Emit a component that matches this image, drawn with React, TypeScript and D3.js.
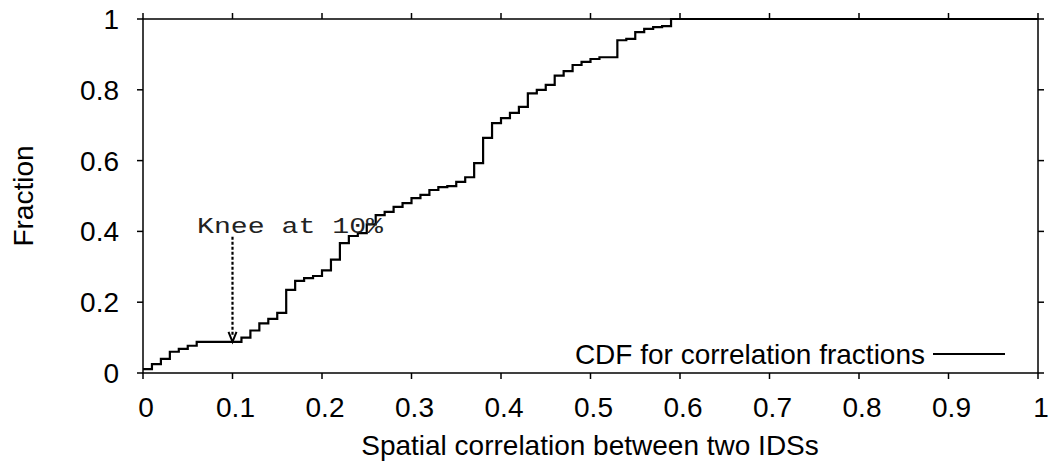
import React from "react";
import * as d3 from "d3";

const xValues = [0.0, 0.01, 0.02, 0.03, 0.04, 0.05, 0.06, 0.07, 0.08, 0.09, 0.1, 0.11, 0.12, 0.13, 0.14, 0.15, 0.16, 0.17, 0.18, 0.19, 0.2, 0.21, 0.22, 0.23, 0.24, 0.25, 0.26, 0.27, 0.28, 0.29, 0.3, 0.31, 0.32, 0.33, 0.34, 0.35, 0.36, 0.37, 0.38, 0.39, 0.4, 0.41, 0.42, 0.43, 0.44, 0.45, 0.46, 0.47, 0.48, 0.49, 0.5, 0.51, 0.52, 0.53, 0.54, 0.55, 0.56, 0.57, 0.58, 0.59, 1.0];
const cdfValues = [0.011, 0.025, 0.04, 0.06, 0.068, 0.077, 0.088, 0.088, 0.088, 0.088, 0.088, 0.1, 0.12, 0.14, 0.153, 0.17, 0.235, 0.26, 0.268, 0.274, 0.29, 0.32, 0.367, 0.387, 0.395, 0.42, 0.446, 0.455, 0.469, 0.48, 0.494, 0.503, 0.517, 0.525, 0.528, 0.54, 0.553, 0.593, 0.664, 0.706, 0.72, 0.735, 0.752, 0.79, 0.8, 0.814, 0.84, 0.853, 0.87, 0.879, 0.887, 0.892, 0.892, 0.94, 0.944, 0.963, 0.972, 0.977, 0.98, 1.0, 1.0];
const xTicks = [0, 0.1, 0.2, 0.3, 0.4, 0.5, 0.6, 0.7, 0.8, 0.9, 1];
const yTicks = [0, 0.2, 0.4, 0.6, 0.8, 1];
const kneeX = 0.1;
const kneeFrom = 0.385;
const kneeTo = 0.088;
const kneeLabel = "Knee at 10%";
const legendLabel = "CDF for correlation fractions";
const xTitle = "Spatial correlation between two IDSs";
const yTitle = "Fraction";

const fmt = (v: number) => String(v);

export default function App() {
  const W = 1049, H = 467;
  const left = 143, right = 1038, top = 19, bottom = 373;
  const x = d3.scaleLinear().domain([0, 1]).range([left, right]);
  const y = d3.scaleLinear().domain([0, 1]).range([bottom, top]);
  const pts: [number, number][] = xValues.map((v, i) => [v, cdfValues[i]]);
  const line = d3
    .line<[number, number]>()
    .x((d) => x(d[0]))
    .y((d) => y(d[1]))
    .curve(d3.curveStepAfter);
  const font = "'Liberation Sans', Arial, Helvetica, sans-serif";
  const tl = 6;
  return (
    <svg width={W} height={H} style={{ position: "absolute", left: 0, top: 0 }}>
      <rect x={0} y={0} width={W} height={H} fill="#fff" />
      <rect x={left} y={top} width={right - left} height={bottom - top} fill="none" stroke="#000" strokeWidth={1.5} />
      {xTicks.map((t) => (
        <g key={"x" + t}>
          <line x1={x(t)} x2={x(t)} y1={bottom} y2={bottom + tl} stroke="#000" strokeWidth={1.5} />
          <line x1={x(t)} x2={x(t)} y1={top} y2={top - tl} stroke="#000" strokeWidth={1.5} />
          <text x={x(t) + 3} y={417} fontSize={28} fontFamily={font} textAnchor="middle" fill="#000">
            {fmt(t)}
          </text>
        </g>
      ))}
      {yTicks.map((t) => (
        <g key={"y" + t}>
          <line x1={left - tl} x2={left} y1={y(t)} y2={y(t)} stroke="#000" strokeWidth={1.5} />
          <line x1={right} x2={right + tl} y1={y(t)} y2={y(t)} stroke="#000" strokeWidth={1.5} />
          <text x={119} y={y(t) + 10} fontSize={28} fontFamily={font} textAnchor="end" fill="#000">
            {fmt(t)}
          </text>
        </g>
      ))}
      <text x={590} y={455} fontSize={28} fontFamily={font} textAnchor="middle" fill="#000">
        {xTitle}
      </text>
      <text transform={`translate(33,196) rotate(-90)`} fontSize={28} fontFamily={font} textAnchor="middle" fill="#000">
        {yTitle}
      </text>
      <path d={line(pts) || ""} fill="none" stroke="#000" strokeWidth={2.2} />
      <text
        transform="translate(197,233) scale(1,0.78)"
        fontSize={28}
        fontFamily="'Liberation Mono', 'Courier New', monospace"
        textLength={186}
        lengthAdjust="spacingAndGlyphs"
        fill="#222"
      >
        {kneeLabel}
      </text>
      <line x1={x(kneeX)} x2={x(kneeX)} y1={y(kneeFrom)} y2={y(kneeTo) - 6} stroke="#000" strokeWidth={2.2} strokeDasharray="3,2" />
      <path
        d={`M${x(kneeX) - 4},${y(kneeTo) - 10} L${x(kneeX)},${y(kneeTo)} L${x(kneeX) + 4},${y(kneeTo) - 10}`}
        fill="none"
        stroke="#000"
        strokeWidth={2}
      />
      <text x={925} y={364} fontSize={28} fontFamily={font} textAnchor="end" fill="#000">
        {legendLabel}
      </text>
      <line x1={933} x2={1005} y1={354} y2={354} stroke="#000" strokeWidth={2} />
    </svg>
  );
}
